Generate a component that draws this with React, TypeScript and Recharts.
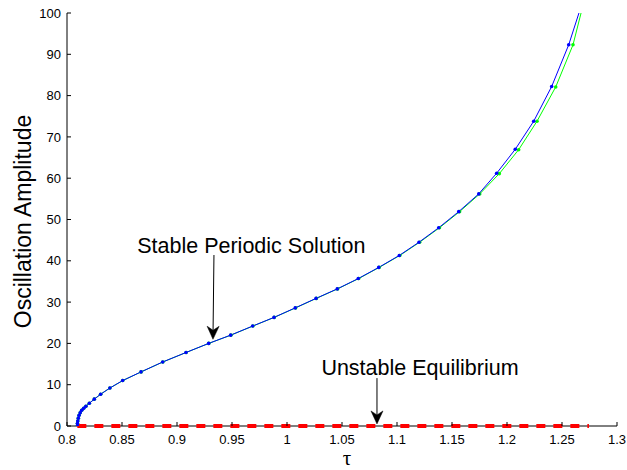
import React from 'react';
import { ComposedChart, Line, XAxis, YAxis, ReferenceLine, ReferenceDot } from 'recharts';

// ---- data ----
const tauTicks = [0.8, 0.85, 0.9, 0.95, 1, 1.05, 1.1, 1.15, 1.2, 1.25, 1.3];
const ampTicks = [0, 10, 20, 30, 40, 50, 60, 70, 80, 90, 100];

// stable periodic solution (blue, continuation points)
const stableTau = [0.8094, 0.8095, 0.8098, 0.8103, 0.811, 0.812, 0.8134, 0.8152, 0.8172, 0.8203, 0.8248, 0.8306, 0.839, 0.8506, 0.8673, 0.887, 0.9082, 0.9288, 0.9488, 0.9688, 0.9882, 1.0075, 1.0264, 1.0457, 1.0648, 1.0834, 1.1021, 1.12, 1.1379, 1.1561, 1.1743, 1.1906, 1.2075, 1.2243, 1.2406, 1.2561, 1.2706];
const stableAmp = [0, 0.6, 1.2, 1.9, 2.6, 3.2, 3.8, 4.3, 4.8, 5.5, 6.5, 7.7, 9.2, 11.0, 13.1, 15.5, 17.8, 20.0, 22.0, 24.2, 26.3, 28.6, 30.9, 33.2, 35.7, 38.4, 41.3, 44.5, 48.0, 51.9, 56.2, 61.2, 67.0, 73.8, 82.2, 92.3, 104.3];

// second (green) branch of the same solution
const greenTau = [0.8094, 0.8095, 0.8098, 0.8103, 0.811, 0.812, 0.8134, 0.8152, 0.8172, 0.8203, 0.8248, 0.8306, 0.839, 0.8507, 0.8674, 0.8871, 0.9083, 0.9289, 0.949, 0.969, 0.9884, 1.0078, 1.0267, 1.046, 1.0652, 1.0838, 1.1026, 1.1206, 1.1386, 1.1569, 1.1752, 1.193, 1.2106, 1.2273, 1.2443, 1.26, 1.2714];
const greenAmp = [0, 0.6, 1.2, 1.9, 2.6, 3.2, 3.8, 4.3, 4.8, 5.5, 6.5, 7.7, 9.2, 11.0, 13.1, 15.5, 17.8, 20.0, 22.0, 24.2, 26.3, 28.6, 30.9, 33.2, 35.7, 38.4, 41.3, 44.5, 48.0, 51.9, 56.2, 61.1, 66.9, 73.8, 82.1, 92.3, 104.3];

// unstable equilibrium (red dashed)
const unstableTau = [0.8094, 1.2745];
const unstableAmp = [0, 0];

// baseline (x axis line) extent
const baseTau = [0.8, 1.3];
const baseAmp = [0, 0];

// annotations: [tau, amp] of text baseline centre, arrow start and arrow tip
const stableLabel = 'Stable Periodic Solution';
const stableLabelPos = [0.9676, 42.0];
const stableArrow = [[0.9336, 41.4], [0.9327, 21.0]];
const unstableLabel = 'Unstable Equilibrium';
const unstableLabelPos = [1.1209, 12.35];
const unstableArrow = [[1.0818, 11.6], [1.0818, 0.5]];

const xLabel = 'τ';
const yLabel = 'Oscillation Amplitude';

const stableData = stableTau.map((t, i) => ({ t, a: stableAmp[i] }));
const greenData = greenTau.map((t, i) => ({ t, a: greenAmp[i] }));
const unstableData = unstableTau.map((t, i) => ({ t, a: unstableAmp[i] }));
const baseData = baseTau.map((t, i) => ({ t, a: baseAmp[i] }));

const SANS = '"Liberation Sans", Arial, Helvetica, sans-serif';

const YTick = (props: any) => {
  const { x, y, payload } = props;
  const ax = x + 6;
  return (
    <g>
      <line x1={ax} x2={ax + 4} y1={y} y2={y} stroke="#000" strokeWidth={1} />
      <text x={x} y={y} dy={4.6} textAnchor="end" fontSize={13} fontFamily={SANS} fill="#000">
        {String(payload.value)}
      </text>
    </g>
  );
};

const XTick = (props: any) => {
  const { x, y, payload } = props;
  const ay = y - 6;
  return (
    <g>
      <line x1={x} x2={x} y1={ay} y2={ay - 4} stroke="#000" strokeWidth={1} />
      <text x={x} y={ay + 18} textAnchor="middle" fontSize={13} fontFamily={SANS} fill="#000">
        {String(payload.value)}
      </text>
    </g>
  );
};

const YLabel = (props: any) => {
  const vb = props.viewBox || { x: 0, y: 0, width: 0, height: 0 };
  const x = vb.x + 31;
  const y = vb.y + vb.height / 2 + 2;
  return (
    <text x={x} y={y} transform={`rotate(-90 ${x} ${y})`} textAnchor="middle" fontSize={23} fontFamily={SANS} fill="#000">
      {yLabel}
    </text>
  );
};

const XLabel = (props: any) => {
  const vb = props.viewBox || { x: 0, y: 0, width: 0, height: 0 };
  const x = vb.x + vb.width / 2 + 5;
  const y = vb.y + 39;
  return (
    <text x={x} y={y} textAnchor="middle" fontSize={21} fontFamily='"Liberation Serif", "DejaVu Serif", serif' fill="#000">
      {xLabel}
    </text>
  );
};

const AnnLabel = (props: any) => {
  const vb = props.viewBox || { x: 0, y: 0, width: 0, height: 0 };
  const x = vb.x + (vb.width || 0) / 2;
  const y = vb.y + (vb.height || 0) / 2;
  return (
    <text x={x} y={y} textAnchor="middle" fontSize={21.5} fontFamily={SANS} fill="#000">
      {props.text}
    </text>
  );
};

const Arrow = (props: any) => {
  const { x1, y1, x2, y2 } = props;
  const dx = x2 - x1;
  const dy = y2 - y1;
  const len = Math.sqrt(dx * dx + dy * dy) || 1;
  const ux = dx / len;
  const uy = dy / len;
  const px = -uy;
  const py = ux;
  const hl = 13;
  const hw = 6;
  const back = 9;
  const lx = x2 - ux * hl + px * hw;
  const ly = y2 - uy * hl + py * hw;
  const rx = x2 - ux * hl - px * hw;
  const ry = y2 - uy * hl - py * hw;
  const bx = x2 - ux * back;
  const by = y2 - uy * back;
  return (
    <g>
      <line x1={x1} y1={y1} x2={bx} y2={by} stroke="#000" strokeWidth={1} />
      <polygon points={`${x2},${y2} ${lx},${ly} ${bx},${by} ${rx},${ry}`} fill="#000" stroke="#000" strokeWidth={0.5} />
    </g>
  );
};

export default function App() {
  return (
    <div style={{ position: 'absolute', left: 0, top: 0, background: '#fff' }}>
      <ComposedChart width={627} height={470} margin={{ top: 13, right: 10, bottom: 0, left: 0 }}>
        <XAxis
          dataKey="t"
          type="number"
          domain={[0.8, 1.3]}
          ticks={tauTicks}
          interval={0}
          tickLine={false}
          tickSize={0}
          tickMargin={6}
          tick={<XTick />}
          axisLine={false}
          height={44}
          allowDataOverflow
          label={<XLabel />}
        />
        <YAxis
          dataKey="a"
          type="number"
          domain={[0, 100]}
          ticks={ampTicks}
          interval={0}
          tickLine={false}
          tickSize={0}
          tickMargin={6}
          tick={<YTick />}
          axisLine={{ stroke: '#000', strokeWidth: 1 }}
          width={67}
          allowDataOverflow
          label={<YLabel />}
        />
        <YAxis yAxisId="r" type="number" domain={[0, 100]} hide />
        <XAxis xAxisId="r" dataKey="t" type="number" domain={[0.8, 1.3]} hide />
        <Line
          data={baseData}
          xAxisId="r"
          yAxisId="r"
          dataKey="a"
          type="linear"
          stroke="#000"
          strokeWidth={1}
          dot={false}
          isAnimationActive={false}
        />
        <Line
          data={unstableData}
          xAxisId="r"
          yAxisId="r"
          dataKey="a"
          type="linear"
          stroke="#ff0000"
          strokeWidth={4}
          strokeDasharray="9 8"
          dot={false}
          isAnimationActive={false}
        />
        <Line
          data={greenData}
          dataKey="a"
          type="linear"
          stroke="#00ff00"
          strokeWidth={1}
          dot={{ r: 1.8, fill: '#00ff00', stroke: 'none' }}
          isAnimationActive={false}
        />
        <Line
          data={stableData}
          dataKey="a"
          type="linear"
          stroke="#0000ff"
          strokeWidth={1}
          dot={{ r: 1.8, fill: '#0000ff', stroke: 'none' }}
          isAnimationActive={false}
        />
        <ReferenceLine
          segment={[{ x: stableArrow[0][0], y: stableArrow[0][1] }, { x: stableArrow[1][0], y: stableArrow[1][1] }]}
          shape={(p: any) => <Arrow {...p} />}
          ifOverflow="visible"
        />
        <ReferenceLine
          segment={[{ x: unstableArrow[0][0], y: unstableArrow[0][1] }, { x: unstableArrow[1][0], y: unstableArrow[1][1] }]}
          shape={(p: any) => <Arrow {...p} />}
          ifOverflow="visible"
        />
        <ReferenceDot
          x={stableLabelPos[0]}
          y={stableLabelPos[1]}
          r={0}
          fill="none"
          stroke="none"
          ifOverflow="visible"
          label={<AnnLabel text={stableLabel} />}
        />
        <ReferenceDot
          x={unstableLabelPos[0]}
          y={unstableLabelPos[1]}
          r={0}
          fill="none"
          stroke="none"
          ifOverflow="visible"
          label={<AnnLabel text={unstableLabel} />}
        />
      </ComposedChart>
    </div>
  );
}
